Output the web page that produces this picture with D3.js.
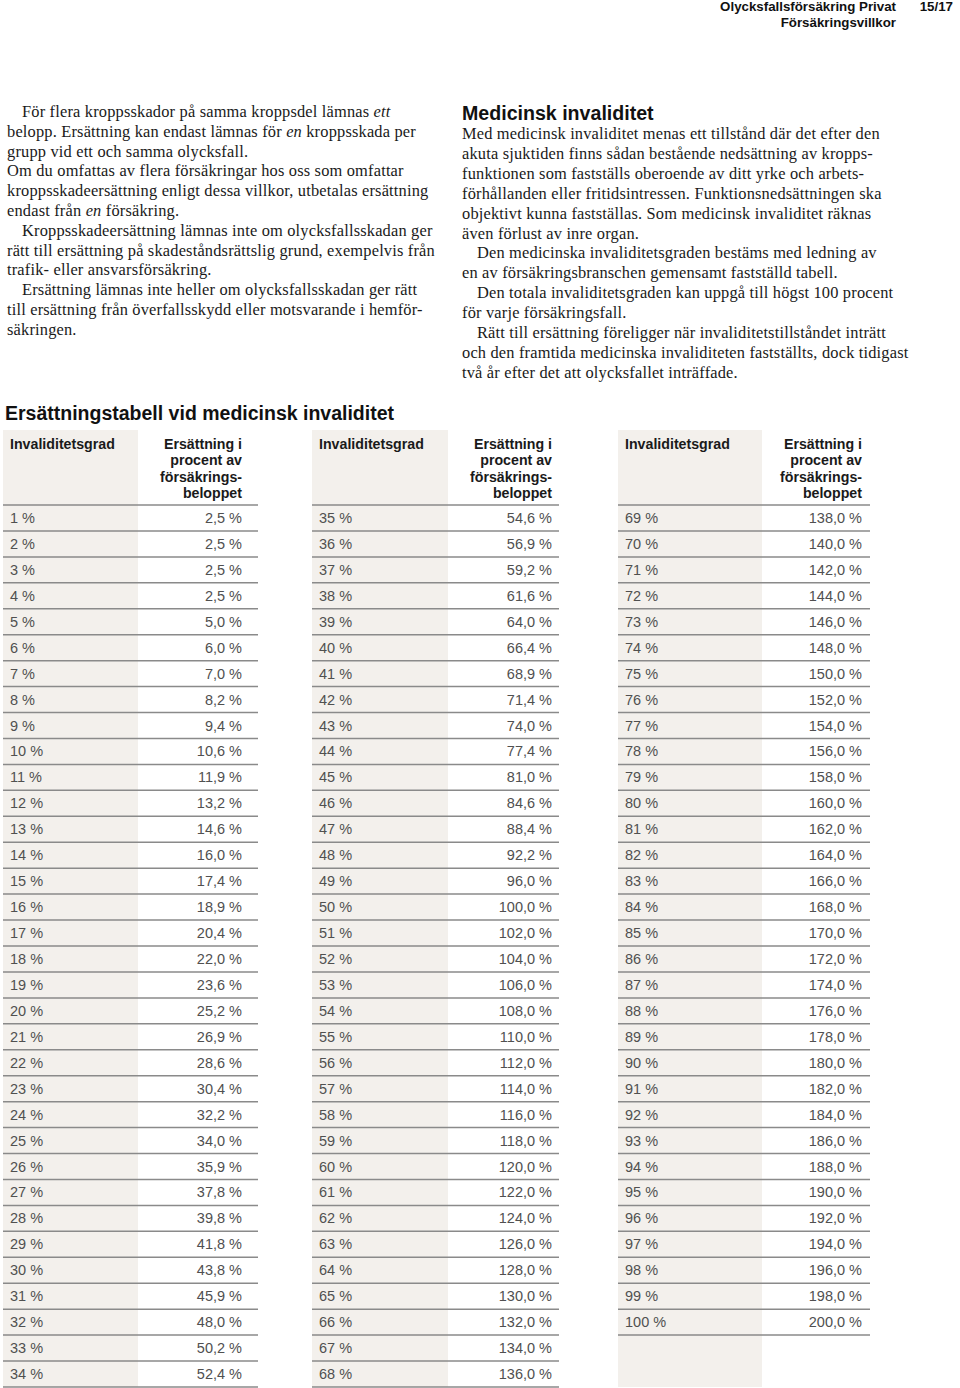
<!DOCTYPE html>
<html><head><meta charset="utf-8">
<script src="https://cdn.jsdelivr.net/npm/d3@7"></script>
<style>
html,body{margin:0;padding:0;background:#fff;}
svg{display:block;}
.serif{font-family:"Liberation Serif","Times New Roman",serif;font-size:16.4px;letter-spacing:0.18px;fill:#1a1a1a;}
.sans{font-family:"Liberation Sans",Arial,sans-serif;}
</style>
</head><body>
<svg id="c" width="960" height="1388"></svg>
<script>
// ---- data ----
const grades1 = [1,2,3,4,5,6,7,8,9,10,11,12,13,14,15,16,17,18,19,20,21,22,23,24,25,26,27,28,29,30,31,32,33,34];
const payout1 = [2.5,2.5,2.5,2.5,5.0,6.0,7.0,8.2,9.4,10.6,11.9,13.2,14.6,16.0,17.4,18.9,20.4,22.0,23.6,25.2,26.9,28.6,30.4,32.2,34.0,35.9,37.8,39.8,41.8,43.8,45.9,48.0,50.2,52.4];
const grades2 = [35,36,37,38,39,40,41,42,43,44,45,46,47,48,49,50,51,52,53,54,55,56,57,58,59,60,61,62,63,64,65,66,67,68];
const payout2 = [54.6,56.9,59.2,61.6,64.0,66.4,68.9,71.4,74.0,77.4,81.0,84.6,88.4,92.2,96.0,100.0,102.0,104.0,106.0,108.0,110.0,112.0,114.0,116.0,118.0,120.0,122.0,124.0,126.0,128.0,130.0,132.0,134.0,136.0];
const grades3 = [69,70,71,72,73,74,75,76,77,78,79,80,81,82,83,84,85,86,87,88,89,90,91,92,93,94,95,96,97,98,99,100];
const payout3 = [138.0,140.0,142.0,144.0,146.0,148.0,150.0,152.0,154.0,156.0,158.0,160.0,162.0,164.0,166.0,168.0,170.0,172.0,174.0,176.0,178.0,180.0,182.0,184.0,186.0,188.0,190.0,192.0,194.0,196.0,198.0,200.0];
const headerLeft = "Invaliditetsgrad";
const headerRight = ["Ersättning i","procent av","försäkrings-","beloppet"];
const tableTitle = "Ersättningstabell vid medicinsk invaliditet";
const pageHeader = ["Olycksfallsförsäkring Privat","Försäkringsvillkor"];
const pageNo = "15/17";

// text paragraphs: [text, indent]; *x* marks italic
const leftLines = [
 ["För flera kroppsskador på samma kroppsdel lämnas *ett*",1],
 ["belopp. Ersättning kan endast lämnas för *en* kroppsskada per",0],
 ["grupp vid ett och samma olycksfall.",0],
 ["Om du omfattas av flera försäkringar hos oss som omfattar",0],
 ["kroppsskadeersättning enligt dessa villkor, utbetalas ersättning",0],
 ["endast från *en* försäkring.",0],
 ["Kroppsskadeersättning lämnas inte om olycksfallsskadan ger",1],
 ["rätt till ersättning på skadeståndsrättslig grund, exempelvis från",0],
 ["trafik- eller ansvarsförsäkring.",0],
 ["Ersättning lämnas inte heller om olycksfallsskadan ger rätt",1],
 ["till ersättning från överfallsskydd eller motsvarande i hemför-",0],
 ["säkringen.",0]
];
const rightTitle = "Medicinsk invaliditet";
const rightLines = [
 ["Med medicinsk invaliditet menas ett tillstånd där det efter den",0],
 ["akuta sjuktiden finns sådan bestående nedsättning av kropps-",0],
 ["funktionen som fastställs oberoende av ditt yrke och arbets-",0],
 ["förhållanden eller fritidsintressen. Funktionsnedsättningen ska",0],
 ["objektivt kunna fastställas. Som medicinsk invaliditet räknas",0],
 ["även förlust av inre organ.",0],
 ["Den medicinska invaliditetsgraden bestäms med ledning av",1],
 ["en av försäkringsbranschen gemensamt fastställd tabell.",0],
 ["Den totala invaliditetsgraden kan uppgå till högst 100 procent",1],
 ["för varje försäkringsfall.",0],
 ["Rätt till ersättning föreligger när invaliditetstillståndet inträtt",1],
 ["och den framtida medicinska invaliditeten fastställts, dock tidigast",0],
 ["två år efter det att olycksfallet inträffade.",0]
];

// ---- drawing ----
const svg = d3.select("#c");
const sv = d3.formatLocale({decimal:",",thousands:" ",grouping:[3],currency:["","kr"]});
const fmt = sv.format(".1f");

// page header
const hdr = svg.append("g").attr("class","sans").style("font-weight","bold").style("font-size","13.3px").attr("fill","#111");
hdr.append("text").attr("x",896).attr("y",11).attr("text-anchor","end").text(pageHeader[0]);
hdr.append("text").attr("x",896).attr("y",27).attr("text-anchor","end").text(pageHeader[1]);
hdr.append("text").attr("x",953).attr("y",11).attr("text-anchor","end").text(pageNo);

// paragraphs
function drawLines(lines, x0, y0, step){
  const ly = d3.scaleLinear().domain([0,1]).range([y0, y0+step]);
  lines.forEach((l,i)=>{
    const t = svg.append("text").attr("class","serif").attr("x", x0 + (l[1]?15:0)).attr("y", ly(i));
    l[0].split("*").forEach((part,k)=>{
      if(part.length) t.append("tspan").style("font-style", k%2 ? "italic":"normal").text(part);
    });
  });
}
drawLines(leftLines, 7, 117, 19.8);
svg.append("text").attr("class","sans").attr("x",462).attr("y",120).style("font-weight","bold").style("font-size","19.6px").attr("fill","#111").text(rightTitle);
drawLines(rightLines, 462, 139, 19.9);

// table title
svg.append("text").attr("class","sans").attr("x",5).attr("y",420).style("font-weight","bold").style("font-size","19.5px").attr("fill","#111").text(tableTitle);

// tables
const rowStep = (1387-505)/34;
const tables = [
  {g:grades1, v:payout1, x0:3, xg:138, x1:258, xr:242},
  {g:grades2, v:payout2, x0:312, xg:448, x1:559, xr:552},
  {g:grades3, v:payout3, x0:618, xg:762, x1:870, xr:862}
];
tables.forEach(tb=>{
  const n = tb.g.length;
  const y = d3.scaleBand().domain(tb.g).range([505, 505 + n*rowStep]);
  const g = svg.append("g");
  g.append("rect").attr("x",tb.x0).attr("y",430).attr("width",tb.xg-tb.x0).attr("height",1387-430).attr("fill","#f3f0ec");
  // header
  const ht = g.append("g").attr("class","sans").style("font-weight","bold").style("font-size","14.2px").attr("fill","#1a1a1a");
  ht.append("text").attr("x",tb.x0+7).attr("y",449).text(headerLeft);
  headerRight.forEach((h,i)=>{
    ht.append("text").attr("x",tb.xr).attr("y",449+i*16.4).attr("text-anchor","end").text(h);
  });
  // lines
  g.append("line").attr("x1",tb.x0).attr("x2",tb.x1).attr("y1",505).attr("y2",505).attr("stroke","#8a8a8a").attr("stroke-width",1.5);
  g.selectAll("line.row").data(tb.g).join("line").attr("class","row")
    .attr("x1",tb.x0).attr("x2",tb.x1)
    .attr("y1",d=>y(d)+y.bandwidth()).attr("y2",d=>y(d)+y.bandwidth())
    .attr("stroke","#8a8a8a").attr("stroke-width",1.5);
  const rows = g.selectAll("g.r").data(tb.g.map((d,i)=>({g:d,v:tb.v[i]}))).join("g").attr("class","r sans")
    .style("font-size","14.5px").attr("fill","#505050");
  rows.append("text").attr("x",tb.x0+7).attr("y",d=>y(d.g)+y.bandwidth()/2+5).text(d=>d.g+" %");
  rows.append("text").attr("x",tb.xr).attr("y",d=>y(d.g)+y.bandwidth()/2+5).attr("text-anchor","end").text(d=>fmt(d.v)+" %");
});
</script>
</body></html>
